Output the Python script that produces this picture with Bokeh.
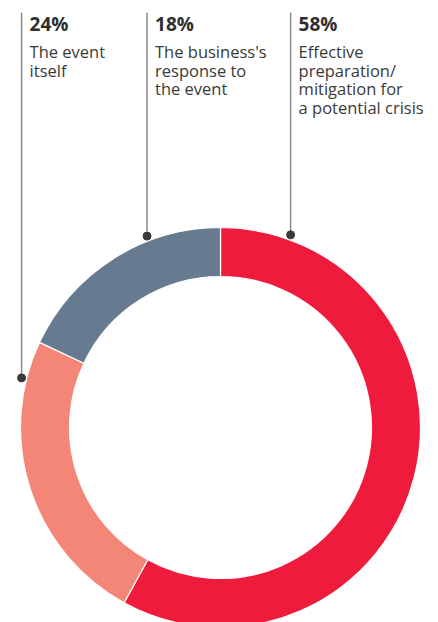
import math
from bokeh.plotting import figure
from bokeh.models import Range1d, ColumnDataSource
from bokeh.core.properties import value
from bokeh.embed import file_html
from bokeh.resources import INLINE

# ---- data ----
categories = ["Effective preparation/mitigation for a potential crisis",
              "The event itself",
              "The business's response to the event"]
label_lines = [["Effective", "preparation/", "mitigation for", "a potential crisis"],
               ["The event", "itself"],
               ["The business's", "response to", "the event"]]
shares = [58, 24, 18]
pct_labels = ["58%", "24%", "18%"]
colors = ["#EE1B3C", "#F38677", "#667B8F"]

# ---- layout ----
W, H = 438, 622
def Y(img_y):
    return H - img_y

cx, cy = 220, Y(427)
R_OUT, R_IN = 200, 151
anchor_deg = [20, 284, 339]   # leader anchor angle, clockwise from top
R_DOT = 205
TOP = Y(12)

p = figure(width=W, height=H, x_range=Range1d(0, W), y_range=Range1d(0, H),
           output_backend="svg", toolbar_location=None, min_border=0,
           background_fill_color="white", border_fill_color="white")
p.axis.visible = False
p.grid.visible = False
p.outline_line_color = None

total = float(sum(shares))
starts, ends = [], []
cum = 0.0
for s in shares:
    starts.append(math.pi / 2 - 2 * math.pi * cum / total)
    cum += s
    ends.append(math.pi / 2 - 2 * math.pi * cum / total)

src = ColumnDataSource(dict(start=starts, end=ends, color=colors, cat=categories))
p.annular_wedge(x=cx, y=cy, inner_radius=R_IN, outer_radius=R_OUT,
                start_angle="start", end_angle="end", direction="clock",
                fill_color="color", line_color="white", line_width=1.2, source=src)

font = value("Open Sans")
for i, s in enumerate(shares):
    a = math.radians(anchor_deg[i])
    dx = cx + R_DOT * math.sin(a)
    dy = cy + R_DOT * math.cos(a)
    p.line([dx, dx], [dy, TOP], line_color="#8C8C8C", line_width=1.5)
    p.scatter([dx], [dy], size=8, fill_color="#3A3A3A", line_color="#3A3A3A")
    tx = dx + 8
    p.text([tx], [Y(23)], text=[pct_labels[i]], text_font=font, text_font_size="19px",
           text_font_style="bold", text_color="#2E2E2E", text_baseline="alphabetic")
    for j, ln in enumerate(label_lines[i]):
        p.text([tx], [Y(51 + 18.7 * j)], text=[ln], text_font=font, text_font_size="16.5px",
               text_color="#3A3A3A", text_baseline="alphabetic")

open("out.html", "w").write(file_html(p, INLINE))
